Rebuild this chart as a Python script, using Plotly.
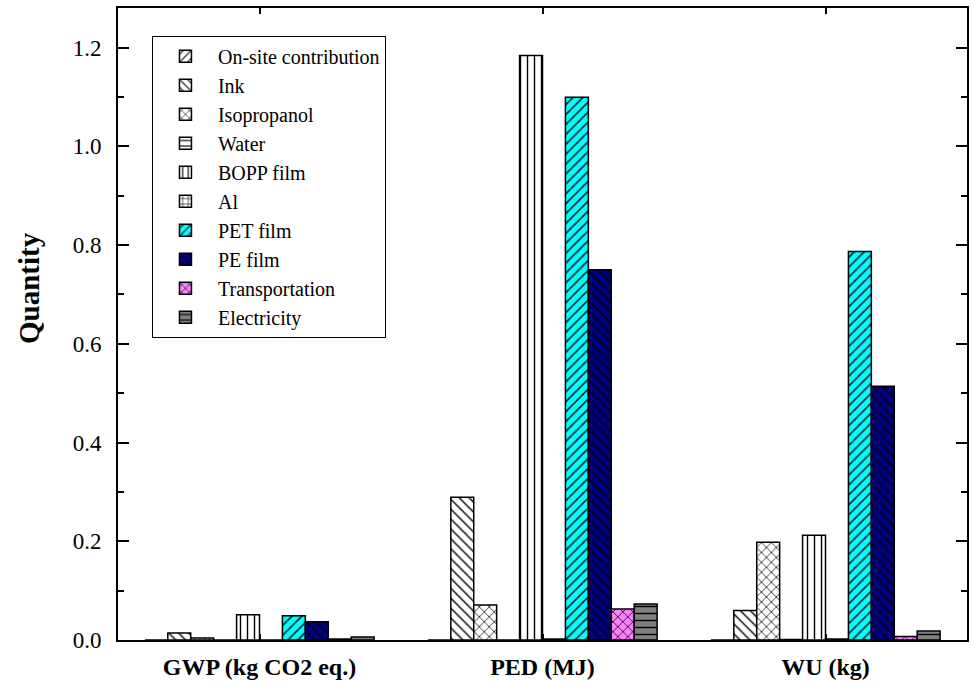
import plotly.graph_objects as go

categories = ["GWP (kg CO2 eq.)", "PED (MJ)", "WU (kg)"]
series_names = ["On-site contribution", "Ink", "Isopropanol", "Water", "BOPP film",
                "Al", "PET film", "PE film", "Transportation", "Electricity"]
onsite = [0.0, 0.0, 0.0]
ink = [0.014, 0.289, 0.060]
isopropanol = [0.004, 0.071, 0.198]
water = [0.0, 0.0, 0.001]
bopp = [0.051, 1.184, 0.212]
al = [0.0, 0.002, 0.002]
pet = [0.049, 1.099, 0.787]
pe = [0.037, 0.750, 0.514]
transport = [0.002, 0.063, 0.007]
electricity = [0.006, 0.073, 0.018]

values = [onsite, ink, isopropanol, water, bopp, al, pet, pe, transport, electricity]
shapes = ["/", "\\", "x", "-", "|", "+", "/", "\\", "x", "-"]
colors = ["white", "white", "white", "white", "white", "white",
          "#00FFFF", "#000080", "#FF80FF", "#808080"]

FONT = "Liberation Serif"

fig = go.Figure()
for name, vals, shp, col in zip(series_names, values, shapes, colors):
    fig.add_trace(go.Bar(
        name=name, x=categories, y=vals,
        marker=dict(color=col,
                    line=dict(color="black", width=1.5),
                    pattern=dict(shape=shp, fgcolor="black", bgcolor=col,
                                 size=7, solidity=0.2, fillmode="replace")),
    ))

fig.update_layout(
    width=973, height=684,
    margin=dict(l=118, r=4, t=8, b=43),
    paper_bgcolor="white", plot_bgcolor="white",
    barmode="group", bargap=0.19, bargroupgap=0,
    font=dict(family=FONT, color="black"),
    showlegend=True,
    legend=dict(x=0.04, y=0.956, xanchor="left", yanchor="top",
                bordercolor="black", borderwidth=1, bgcolor="white",
                font=dict(family=FONT, size=20, color="black"),
                itemwidth=55),
    annotations=[dict(
        text="<b>Quantity</b>", textangle=-90, showarrow=False,
        xref="paper", yref="paper", x=0, y=(641 - 288.5) / 633,
        xanchor="center", yanchor="middle", xshift=-89,
        font=dict(family=FONT, size=29, color="black"),
    )],
)
fig.update_xaxes(
    range=[-0.5, 2.5], showline=True, linecolor="black", linewidth=2, mirror="allticks",
    ticks="inside", ticklen=6, tickwidth=1.5, tickcolor="black",
    tickfont=dict(family=FONT, size=24, color="black", weight="bold"),
    ticklabelstandoff=4,
    showgrid=False, zeroline=False,
)
fig.update_yaxes(
    range=[0, 1.28], dtick=0.2, tickformat=".1f",
    showline=True, linecolor="black", linewidth=2, mirror="allticks",
    ticks="inside", ticklen=11, tickwidth=2, tickcolor="black",
    minor=dict(dtick=0.1, ticks="inside", ticklen=6, tickwidth=1.5, tickcolor="black"),
    tickfont=dict(family=FONT, size=23, color="black"),
    ticklabelstandoff=10,
    showgrid=False, zeroline=False,
)

fig.write_html("out.html")
